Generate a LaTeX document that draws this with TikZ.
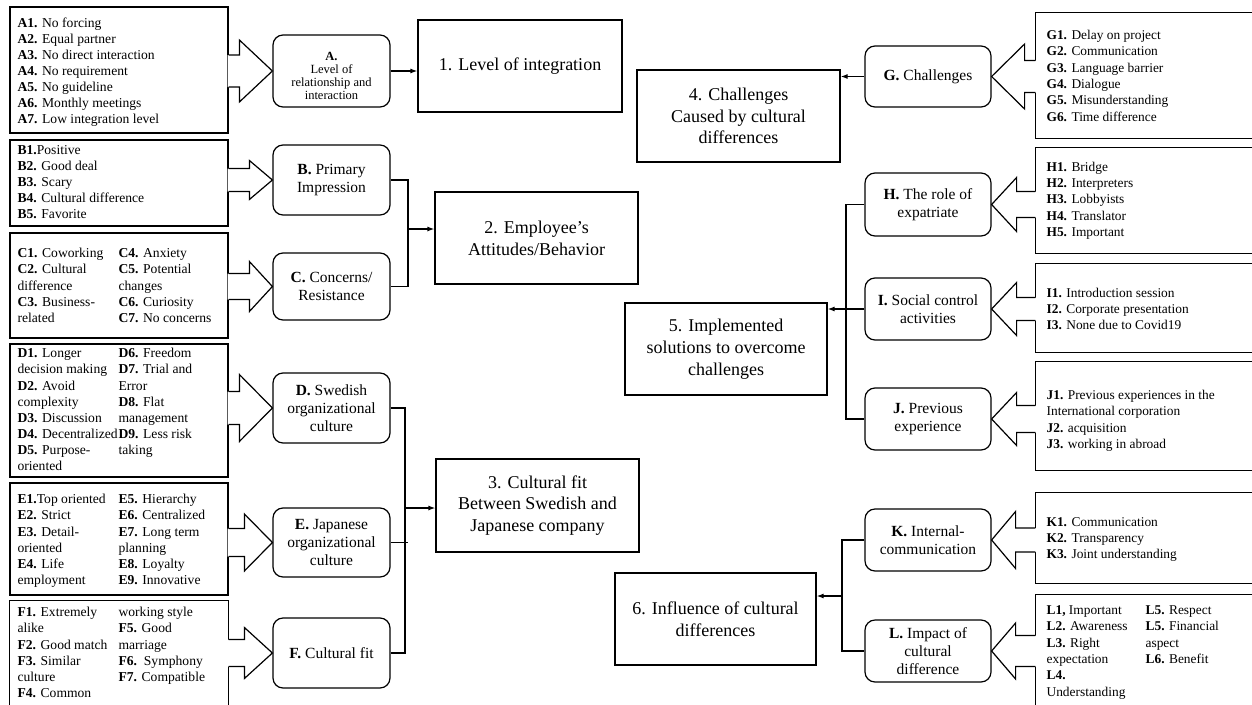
\documentclass[tikz,border=0pt]{standalone}
\usepackage{fontspec}
\setmainfont{Liberation Serif}
\usetikzlibrary{calc,arrows.meta}
\newcommand\lfont{\fontsize{13.6}{16.1}\selectfont}
\newcommand\rfont{\fontsize{13.4}{16.3}\selectfont}
\newcommand\nfont{\fontsize{15.5}{17.8}\selectfont}
\newcommand\afont{\fontsize{12.5}{12.8}\selectfont}
\newcommand\bxfont{\fontsize{18}{21.7}\selectfont}
% #1 list box anchor, #2 tip anchor, #3 shaft half, #4 head half, #5 head base offset from tip, #6 overlap into box
\newcommand\fatarrow[6]{%
  \coordinate (fa0) at (#1|-#2);
  \fill[white] ($(fa0)+(#6,-#3)$) -- ($(#2)+(#5,-#3)$) -- ($(#2)+(#5,-#4)$) -- (#2) -- ($(#2)+(#5,#4)$) -- ($(#2)+(#5,#3)$) -- ($(fa0)+(#6,#3)$) -- cycle;
  \draw ($(fa0)+(0,-#3)$) -- ($(#2)+(#5,-#3)$) -- ($(#2)+(#5,-#4)$) -- (#2) -- ($(#2)+(#5,#4)$) -- ($(#2)+(#5,#3)$) -- ($(fa0)+(0,#3)$);
}
\begin{document}
\begin{tikzpicture}[x=1pt,y=-1pt,line width=1.2pt,
  bigbox/.style={draw, rectangle, inner sep=0pt, align=center, font=\bxfont},
  rnode/.style={draw, rectangle, rounded corners=10pt, inner sep=0pt, align=center, font=\nfont},
  lbox/.style={draw, rectangle, inner sep=0pt},
  obox/.style={rectangle, inner sep=0pt},
  ltxt/.style={inner sep=0pt, anchor=north west, align=left, font=\lfont},
  rtxt/.style={inner sep=0pt, anchor=north west, align=left, font=\rfont},
  arr/.style={-{Latex[length=7pt,width=5pt]}}]
\fill[white] (0,0) rectangle (1252,704);
\useasboundingbox (0,0) rectangle (1252,704);

% ---------- main boxes
\node[bigbox, minimum width=204pt, minimum height=92pt] (b1) at (520,66) {1. Level of integration};
\node[bigbox, minimum width=203pt, minimum height=92pt] (b2) at (536.5,238) {2. Employee’s\\Attitudes/Behavior};
\node[bigbox, minimum width=203pt, minimum height=93pt] (b3) at (537.5,505.5) {3. Cultural fit\\Between Swedish and\\Japanese company};
\node[bigbox, minimum width=203pt, minimum height=92pt] (b4) at (738.5,116) {4. Challenges\\Caused by cultural\\differences};
\node[bigbox, minimum width=202pt, minimum height=92pt] (b5) at (726,349) {5. Implemented\\solutions to overcome\\challenges};
\node[bigbox, minimum width=201pt, minimum height=92pt] (b6) at (715.5,619) {6. Influence of cultural\\differences};

% ---------- left rounded nodes
\node[rnode, minimum width=117pt, minimum height=72pt] (nA) at (331.5,71) {};
\node[inner sep=0pt, align=center, font=\afont] (nAt) at (331.5,76) {\textbf{A.}\\Level of\\relationship and\\interaction};
\node[rnode, minimum width=117pt, minimum height=70pt] (nB) at (331.5,180) {\textbf{B.} Primary\\Impression};
\node[rnode, minimum width=117pt, minimum height=67pt] (nC) at (331.5,286.5) {\textbf{C.} Concerns/\\Resistance};
\node[rnode, minimum width=117pt, minimum height=70pt] (nD) at (331.5,408) {\textbf{D.} Swedish\\organizational\\culture};
\node[rnode, minimum width=117pt, minimum height=69pt] (nE) at (331.5,542.5) {\textbf{E.} Japanese\\organizational\\culture};
\node[rnode, minimum width=117pt, minimum height=70pt] (nF) at (331.5,653) {\textbf{F.} Cultural fit};

% ---------- right rounded nodes
\node[rnode, minimum width=126pt, minimum height=61pt] (nG) at (928,76.5) {\textbf{G.} Challenges};
\node[rnode, minimum width=126pt, minimum height=63pt] (nH) at (928,204.5) {\textbf{H.} The role of\\expatriate};
\node[rnode, minimum width=126pt, minimum height=62pt] (nI) at (928,309) {\textbf{I.} Social control\\activities};
\node[rnode, minimum width=126pt, minimum height=62pt] (nJ) at (928,419) {\textbf{J.} Previous\\experience};
\node[rnode, minimum width=126pt, minimum height=62pt] (nK) at (928,540) {\textbf{K.} Internal-\\communication};
\node[rnode, minimum width=126pt, minimum height=62pt] (nL) at (928,651) {\textbf{L.} Impact of\\cultural\\difference};

% ---------- left list boxes
\node[lbox, minimum width=218pt, minimum height=126pt] (lA) at (119,70) {};
\node[lbox, minimum width=218pt, minimum height=86pt] (lB) at (119,183) {};
\node[lbox, minimum width=218pt, minimum height=105pt] (lC) at (119,285.5) {};
\node[lbox, minimum width=218pt, minimum height=133pt] (lD) at (119,410.5) {};
\node[lbox, minimum width=218pt, minimum height=112pt] (lE) at (119,539) {};
\node[obox, minimum width=218pt, minimum height=103pt] (lF) at (119,652.5) {};
\draw (lF.south west) -- (lF.north west) -- (lF.north east) -- (lF.south east);

% ---------- right list boxes (open to the right edge)
\node[obox, minimum width=216pt, minimum height=125pt] (lG) at (1144,75.5) {};
\node[obox, minimum width=216pt, minimum height=105pt] (lH) at (1144,200.5) {};
\node[obox, minimum width=216pt, minimum height=88pt] (lI) at (1144,308) {};
\node[obox, minimum width=216pt, minimum height=108pt] (lJ) at (1144,416) {};
\node[obox, minimum width=216pt, minimum height=90pt] (lK) at (1144,538) {};
\node[obox, minimum width=216pt, minimum height=109pt] (lL) at (1144,649.5) {};
\foreach \b in {lG,lH,lI,lJ,lK}{
  \draw (\b.north east) -- (\b.north west) -- (\b.south west) -- (\b.south east);
}
\draw (lL.north east) -- (lL.north west) -- (lL.south west);

% ---------- fat arrows
\fatarrow{lA.east}{nA.west}{16}{31}{-33}{-1}
\fatarrow{lB.east}{nB.west}{11.5}{19.5}{-23}{-1}
\fatarrow{lC.east}{nC.west}{13}{25}{-23}{-1}
\fatarrow{lD.east}{nD.west}{16.5}{33.5}{-33}{-1}
\fatarrow{lE.east}{nE.west}{14}{28.5}{-28}{-1}
\fatarrow{lF.east}{nF.west}{13.5}{25.5}{-28}{-1}
\fatarrow{lG.west}{nG.east}{16}{32.5}{33}{1}
\fatarrow{lH.west}{nH.east}{13}{27}{25}{1}
\fatarrow{lI.west}{nI.east}{11.5}{26.5}{25}{1}
\fatarrow{lJ.west}{nJ.east}{13.5}{26.5}{25}{1}
\fatarrow{lK.west}{nK.east}{12}{28.5}{24}{1}
\fatarrow{lL.west}{nL.east}{15.5}{28}{24}{1}

% ---------- list texts (left)
\node[ltxt] (tA) at (17,15.2) {\strut\textbf{A1.} No forcing\\\textbf{A2.} Equal partner\\\textbf{A3.} No direct interaction\\\textbf{A4.} No requirement\\\textbf{A5.} No guideline\\\textbf{A6.} Monthly meetings\\\textbf{A7.} Low integration level};
\node[ltxt] (tB) at (17,142.7) {\strut\textbf{B1.}Positive\\\textbf{B2.} Good deal\\\textbf{B3.} Scary\\\textbf{B4.} Cultural difference\\\textbf{B5.} Favorite};
\node[ltxt] (tC1) at (17,246) {\strut\textbf{C1.} Coworking\\\textbf{C2.} Cultural\\difference\\\textbf{C3.} Business-\\related};
\node[ltxt] (tC2) at (118,246) {\strut\textbf{C4.} Anxiety\\\textbf{C5.} Potential\\changes\\\textbf{C6.} Curiosity\\\textbf{C7.} No concerns};
\node[ltxt] (tD1) at (17,346) {\strut\textbf{D1.} Longer\\decision making\\\textbf{D2.} Avoid\\complexity\\\textbf{D3.} Discussion\\\textbf{D4.} Decentralized\\\textbf{D5.} Purpose-\\oriented};
\node[ltxt] (tD2) at (118,346) {\strut\textbf{D6.} Freedom\\\textbf{D7.} Trial and\\Error\\\textbf{D8.} Flat\\management\\\textbf{D9.} Less risk\\taking};
\node[ltxt] (tE1) at (17,492) {\strut\textbf{E1.}Top oriented\\\textbf{E2.} Strict\\\textbf{E3.} Detail-\\oriented\\\textbf{E4.} Life\\employment};
\node[ltxt] (tE2) at (118,492) {\strut\textbf{E5.} Hierarchy\\\textbf{E6.} Centralized\\\textbf{E7.} Long term\\planning\\\textbf{E8.} Loyalty\\\textbf{E9.} Innovative};
\node[ltxt] (tF1) at (17,605) {\strut\textbf{F1.} Extremely\\alike\\\textbf{F2.} Good match\\\textbf{F3.} Similar\\culture\\\textbf{F4.} Common};
\node[ltxt] (tF2) at (118,605) {\strut working style\\\textbf{F5.} Good\\marriage\\\textbf{F6.}\ \ Symphony\\\textbf{F7.} Compatible};

% ---------- list texts (right)
\node[rtxt] (tG) at (1046,27.6) {\strut\textbf{G1.} Delay on project\\\textbf{G2.} Communication\\\textbf{G3.} Language barrier\\\textbf{G4.} Dialogue\\\textbf{G5.} Misunderstanding\\\textbf{G6.} Time difference};
\node[rtxt] (tH) at (1046,159.3) {\strut\textbf{H1.} Bridge\\\textbf{H2.} Interpreters\\\textbf{H3.} Lobbyists\\\textbf{H4.} Translator\\\textbf{H5.} Important};
\node[rtxt] (tI) at (1046,285.3) {\strut\textbf{I1.} Introduction session\\\textbf{I2.} Corporate presentation\\\textbf{I3.} None due to Covid19};
\node[rtxt] (tJ) at (1046,387.6) {\strut\textbf{J1.} Previous experiences in the\\International corporation\\\textbf{J2.} acquisition\\\textbf{J3.} working in abroad};
\node[rtxt] (tK) at (1046,514.3) {\strut\textbf{K1.} Communication\\\textbf{K2.} Transparency\\\textbf{K3.} Joint understanding};
\node[rtxt] (tL1) at (1046,602.6) {\strut\textbf{L1,} Important\\\textbf{L2.} Awareness\\\textbf{L3.} Right\\expectation\\\textbf{L4.}\\Understanding};
\node[rtxt] (tL2) at (1145,602.6) {\strut\textbf{L5.} Respect\\\textbf{L5.} Financial\\aspect\\\textbf{L6.} Benefit};

% ---------- connectors
\draw[arr] (nA.east) -- (nA.east -| b1.west);

\coordinate (jBC) at (408,229);
\draw (nB.east) -- (nB.east -| jBC) -- (nC.east -| jBC) -- (nC.east);
\draw[arr] (jBC) -- (jBC -| b2.west);

\coordinate (jDF) at (405,508);
\draw (nD.east) -- (nD.east -| jDF) -- (nF.east -| jDF) -- (nF.east);
\draw (nE.east) -- ($(nE.east -| jDF)+(3,0)$);
\draw[arr] (jDF) -- (jDF -| b3.west);

\draw[arr] (nG.west) -- (nG.west -| b4.east);

\coordinate (jHJ) at (846,309);
\draw (nH.west) -- (nH.west -| jHJ) -- (nJ.west -| jHJ) -- (nJ.west);
\draw[arr] (nI.west) -- (nI.west -| b5.east);

\coordinate (jKL) at (842,596);
\draw (nK.west) -- (nK.west -| jKL) -- (nL.west -| jKL) -- (nL.west);
\draw[arr] (jKL) -- (jKL -| b6.east);
\end{tikzpicture}
\end{document}
